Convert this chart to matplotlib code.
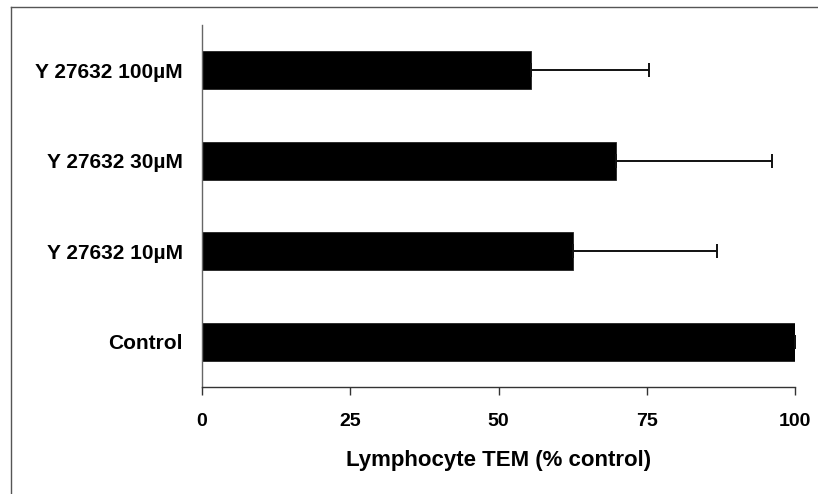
import numpy as np
import matplotlib
matplotlib.use('Agg')
import matplotlib.pyplot as plt
from matplotlib.lines import Line2D

# data (bottom to top)
categories = ['Control', 'Y 27632 10µM', 'Y 27632 30µM', 'Y 27632 100µM']
values = [100.0, 62.5, 69.8, 55.4]
errors = [0.0, 24.4, 26.3, 20.0]
xticks = [0, 25, 50, 75, 100]

plt.rcParams['font.family'] = ['Liberation Sans', 'DejaVu Sans']
plt.rcParams['font.weight'] = 'bold'

W, H = 818, 494
fig = plt.figure(figsize=(W / 100, H / 100), dpi=100)
ax = fig.add_axes([202 / W, 1 - 387 / H, (795 - 202) / W, (387 - 25) / H])

y = np.arange(len(categories))
xerr = np.array([np.zeros(len(errors)), errors])
ax.barh(y, values, height=0.42, color='black', edgecolor='#222222', linewidth=0.6,
        xerr=xerr, error_kw=dict(ecolor='#111111', elinewidth=1.4, capsize=5, capthick=1.4))

ax.set_xlim(0, 100)
ax.set_ylim(-0.5, 3.5)
ax.set_xticks(xticks)
ax.set_xticklabels([str(t) for t in xticks], fontsize=14, fontweight='bold')
ax.set_yticks(y)
ax.set_yticklabels(categories, fontsize=15, fontweight='bold')
ax.tick_params(axis='y', length=0, pad=14)
ax.tick_params(axis='x', direction='out', length=6, width=1, color='#333333', pad=13)
ax.set_xlabel('Lymphocyte TEM (% control)', fontsize=16, fontweight='bold', labelpad=14)

for s in ['top', 'right']:
    ax.spines[s].set_visible(False)
ax.spines['left'].set_color('#666666')
ax.spines['bottom'].set_color('#333333')
ax.spines['left'].set_linewidth(1)
ax.spines['bottom'].set_linewidth(1)

# thin scanned frame around the figure (top and left only)
fig.add_artist(Line2D([11 / W, 1], [1 - 7 / H, 1 - 7 / H], transform=fig.transFigure,
                      color='#555555', lw=1))
fig.add_artist(Line2D([11 / W, 11 / W], [0, 1 - 7 / H], transform=fig.transFigure,
                      color='#555555', lw=1))

fig.savefig('out.png', dpi=100)
